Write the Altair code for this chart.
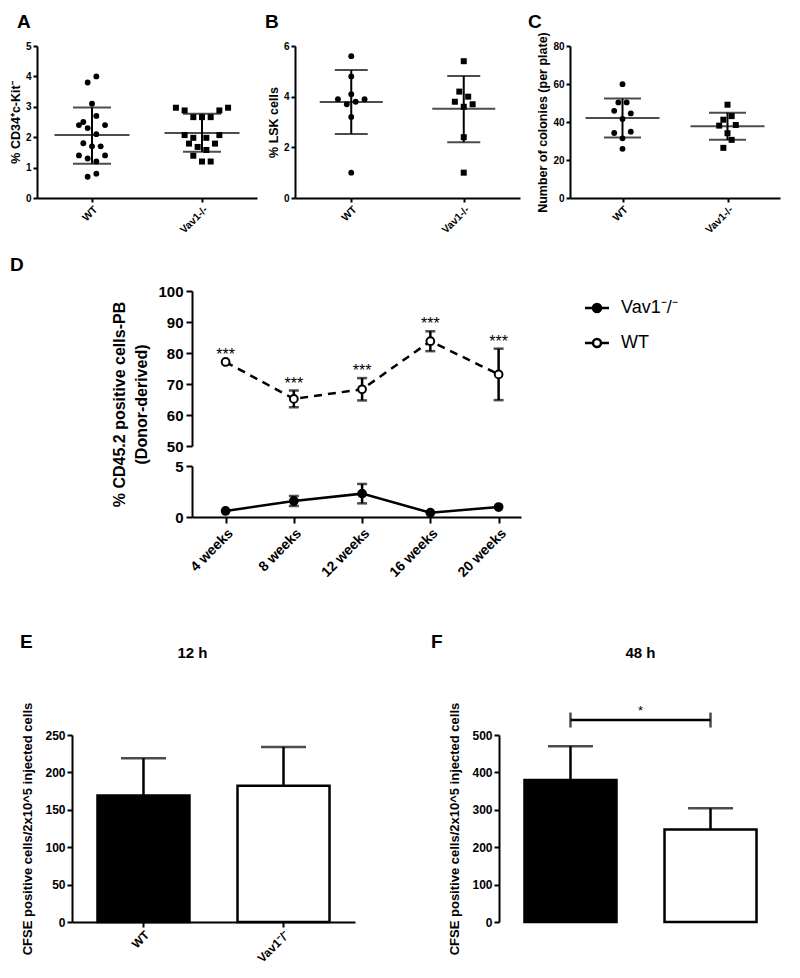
import altair as alt
import pandas as pd

FONT = "Liberation Sans"
INK = "#000000"

# ---------------- Panels A-C (scatter dot plots, mean +/- SD) ----------------
groups = ["WT", "Vav1-/-"]
col_step = 0.0395  # horizontal spread of one dot column, in group widths

a_ytitle = "% CD34\u207ac-Kit\u207b"
a_wt = [4.0, 3.8, 3.1, 2.7, 2.5, 2.4, 2.4, 2.3, 2.1, 1.8, 1.7, 1.7, 1.4, 1.4, 1.3, 1.2, 0.8, 0.7]
a_wt_col = [1, -1, 0, 1, -2, -3, 3, -1, 1, -2, 0, 2, -3, 3, -1, 1, 1, -1]
a_ko = [2.97, 2.88, 2.66, 2.66, 2.66, 2.88, 2.97, 2.07, 1.98, 1.98, 2.07, 1.79, 1.79, 1.68, 1.58, 1.39, 1.2, 1.2]
a_ko_col = [-6, -4, -2, 0, 2, 4, 6, -4, -2, 1, 4, -3, 3, -1, 1, -2, 0, 2]
a_mean = [2.07, 2.14]
a_hi = [2.98, 2.77]
a_lo = [1.13, 1.52]

b_ytitle = "% LSK cells"
b_wt = [5.6, 4.8, 4.1, 3.9, 3.9, 3.8, 3.7, 3.2, 1.0]
b_wt_col = [0, 0, 0, -3, 3, 1, -1, 0, 0]
b_ko = [5.4, 4.2, 4.0, 3.8, 3.7, 3.6, 2.4, 1.0]
b_ko_col = [0, -1, 1, -2, 2, 0, 0, 0]
b_mean = [3.79, 3.52]
b_hi = [5.05, 4.82]
b_lo = [2.53, 2.20]

c_ytitle = "Number of colonies (per plate)"
c_wt = [59.9, 50.3, 50.3, 45.9, 44.5, 41.6, 34.2, 34.9, 31.4, 25.9]
c_wt_col = [0, -1, 1, -2, 2, 0, -2, 2, 0, 0]
c_ko = [49.1, 43.1, 41.2, 38.1, 38.4, 34.1, 30.6, 26.4]
c_ko_col = [0, 1, -1, -2, 2, 0, 1, -1]
c_mean = [42.1, 37.7]
c_hi = [52.4, 44.9]
c_lo = [31.8, 30.6]

# ---------------- Panel D (time course) ----------------
week_labels = ["4 weeks", "8 weeks", "12 weeks", "16 weeks", "20 weeks"]
d_series = ["Vav1\u207b/\u207b", "WT"]
d_wt_mean = [77.1, 65.2, 68.3, 83.8, 73.1]
d_wt_err = [0.0, 2.7, 3.6, 3.2, 8.3]
d_ko_mean = [0.59, 1.57, 2.29, 0.42, 0.98]
d_ko_err = [0.0, 0.49, 0.95, 0.0, 0.0]
d_stars = ["***", "***", "***", "***", "***"]
d_ytitle = ["% CD45.2 positive cells-PB", "(Donor-derived)"]

# ---------------- Panels E-F (bar charts) ----------------
bar_groups = ["WT", "Vav1\u207b/\u207b"]
ef_ytitle = "CFSE positive cells/2x10^5 injected cells"
e_mean = [169, 182]
e_err = [50, 52]
f_mean = [380, 247]
f_err = [90, 57]
f_sig_y = 540
f_sig_label = "*"


def ax(**kw):
    base = dict(domainColor=INK, domainWidth=2, tickColor=INK, tickWidth=2, tickSize=4,
                labelColor=INK, labelFont=FONT, labelFontWeight="bold",
                titleColor=INK, titleFont=FONT, titleFontWeight="bold", grid=False)
    base.update(kw)
    return alt.Axis(**base)


def letter_title(text, dx, offset, frame="group"):
    return alt.TitleParams(text, anchor="start", frame=frame, dx=dx, offset=offset,
                           fontSize=19, font=FONT, fontWeight="bold", color=INK)


def spacer(w, title=None):
    props = dict(width=w, height=1)
    if title is not None:
        props["title"] = title
    return alt.Chart(pd.DataFrame({"s": [0]})).mark_point(opacity=0, size=0).properties(**props)


def scatter_panel(letter, letter_dx, letter_off, ytitle, ymax, ystep, wt, wt_col, ko, ko_col,
                  mean, hi, lo, width, mean_w, cap_w):
    pts = pd.DataFrame({"gi": [0] * len(wt) + [1] * len(ko),
                        "value": wt + ko, "col": wt_col + ko_col})
    pts["xpos"] = pts["gi"] + pts["col"] * col_step
    summ = pd.DataFrame({"xpos": [0, 1], "mean": mean, "hi": hi, "lo": lo})
    label_expr = "['" + "','".join(groups) + "'][datum.value]"
    x_axis = ax(title=None, values=[0, 1], labelExpr=label_expr, labelAngle=-45,
                labelFontSize=10.5, labelPadding=2)
    xsc = alt.Scale(domain=[-0.5, 1.5], nice=False, zero=False)

    def X():
        return alt.X("xpos:Q", scale=xsc, axis=x_axis)

    ysc = alt.Scale(domain=[0, ymax], nice=False)
    yax = ax(title=ytitle, values=list(range(0, ymax + 1, ystep)), labelFontSize=10,
             titleFontSize=12.5, titlePadding=3, labelPadding=2)

    def Y(f):
        return alt.Y(f, type="quantitative", scale=ysc, axis=yax)

    base = alt.Chart(pts).encode(x=X(), y=Y("value"))
    wt_l = base.transform_filter(alt.datum.gi == 0).mark_point(
        shape="circle", filled=True, size=34, color=INK, opacity=1)
    ko_l = base.transform_filter(alt.datum.gi == 1).mark_point(
        shape="square", filled=True, size=36, color=INK, opacity=1)
    sb = alt.Chart(summ).encode(x=X())
    vline = sb.mark_rule(color=INK, strokeWidth=2).encode(y=Y("lo"), y2="hi:Q")
    mline = sb.mark_tick(color=INK, thickness=2, size=mean_w, orient="horizontal").encode(y=Y("mean"))
    hcap = sb.mark_tick(color=INK, thickness=2, size=cap_w, orient="horizontal").encode(y=Y("hi"))
    lcap = sb.mark_tick(color=INK, thickness=2, size=cap_w, orient="horizontal").encode(y=Y("lo"))
    return alt.layer(wt_l, ko_l, vline, mline, hcap, lcap).properties(
        width=width, height=152, title=letter_title(letter, letter_dx, letter_off))


panel_a = scatter_panel("A", -20, 9, a_ytitle, 5, 1, a_wt, a_wt_col, a_ko, a_ko_col,
                        a_mean, a_hi, a_lo, 220, 75, 38)
panel_b = scatter_panel("B", -30, 9, b_ytitle, 6, 2, b_wt, b_wt_col, b_ko, b_ko_col,
                        b_mean, b_hi, b_lo, 225, 63, 33)
panel_c = scatter_panel("C", -42, 0, c_ytitle, 80, 20, c_wt, c_wt_col, c_ko, c_ko_col,
                        c_mean, c_hi, c_lo, 210, 74, 37)
row1 = alt.hconcat(spacer(1), alt.hconcat(panel_a, panel_b, panel_c, spacing=8), spacing=0)

# ---------------- Panel D ----------------
leg_path = ("M-2,0H-0.67M0.67,0H2M-0.67,0A0.67,0.67,0,1,0,0.67,0"
            "A0.67,0.67,0,1,0,-0.67,0Z")
fill_enc = alt.Fill("series:N", scale=alt.Scale(domain=d_series, range=[INK, "white"]),
                    legend=alt.Legend(title=None, orient="none", legendX=580, legendY=253,
                                      symbolType=leg_path, symbolSize=144, symbolStrokeWidth=2.5,
                                      symbolStrokeColor=INK, labelFont=FONT, labelFontSize=18,
                                      labelColor=INK, labelOffset=15, rowPadding=15, padding=0))

dx_scale = alt.Scale(type="point", domain=week_labels, padding=0.41, align=0.6)

df_wt = pd.DataFrame({"week": week_labels, "mean": d_wt_mean, "err": d_wt_err,
                      "series": d_series[1], "star": d_stars})
df_ko = pd.DataFrame({"week": week_labels, "mean": d_ko_mean, "err": d_ko_err,
                      "series": d_series[0]})


def d_layers(df, ydom, yvals, yaxis_kw, xaxis, dash, stars):
    ysc = alt.Scale(domain=ydom, nice=False, zero=False)
    yax = ax(values=yvals, labelFontSize=15, tickSize=6, labelPadding=3, **yaxis_kw)

    def Y(f):
        return alt.Y(f, type="quantitative", scale=ysc, axis=yax)

    x = alt.X("week:O", sort=week_labels, scale=dx_scale, axis=xaxis)
    base = alt.Chart(df).transform_calculate(
        hi="datum.mean + datum.err", lo="datum.mean - datum.err").encode(x=x)
    line_kw = dict(color=INK, strokeWidth=2.5)
    if dash:
        line_kw["strokeDash"] = [8, 6]
    line = base.mark_line(**line_kw).encode(y=Y("mean"))
    eb = base.transform_filter("datum.err > 0")
    rule = eb.mark_rule(color=INK, strokeWidth=2.5).encode(y=Y("lo"), y2="hi:Q")
    cap1 = eb.mark_tick(color=INK, thickness=2.5, size=10, orient="horizontal").encode(y=Y("hi"))
    cap2 = eb.mark_tick(color=INK, thickness=2.5, size=10, orient="horizontal").encode(y=Y("lo"))
    pts = base.mark_point(shape="circle", size=60, strokeWidth=2, stroke=INK, opacity=1,
                          fillOpacity=1).encode(y=Y("mean"), fill=fill_enc)
    layers = [line, rule, cap1, cap2, pts]
    if stars:
        layers.append(base.mark_text(baseline="bottom", fontSize=16, font=FONT, color=INK,
                                     dy=1).encode(y=Y("hi"), text="star:N"))
    return alt.layer(*layers)


d_upper = d_layers(df_wt, [50, 100], [50, 60, 70, 80, 90, 100],
                   dict(title=d_ytitle, titleFontSize=16, titleLineHeight=22, titlePadding=8,
                        titleY=113),
                   None, True, True).properties(width=329, height=155)
d_lower = d_layers(df_ko, [0, 5], [0, 5], dict(title=None),
                   ax(title=None, labelAngle=-45, labelFontSize=14, tickSize=6, labelPadding=3),
                   False, False).properties(width=329, height=51)
panel_d = alt.vconcat(d_upper, d_lower, spacing=20, bounds="flush")
row2 = alt.hconcat(spacer(103, letter_title("D", 2, 16)), panel_d, spacing=0)


# ---------------- Panels E-F ----------------
def bar_panel(letter, letter_dx, sub, sub_dx, means, errs, ymax, ystep, sig=False):
    df = pd.DataFrame({"group": bar_groups, "mean": means, "err": errs})
    xsc = alt.Scale(type="band", domain=bar_groups, paddingInner=0.343, paddingOuter=0.182)
    x = alt.X("group:N", sort=bar_groups, scale=xsc,
              axis=ax(title=None, labelAngle=-45, labelFontSize=12, tickSize=5, labelPadding=2))
    ysc = alt.Scale(domain=[0, ymax], nice=False)
    yax = ax(title=ef_ytitle, values=list(range(0, ymax + 1, ystep)), labelFontSize=12,
             tickSize=5, labelPadding=2, titleFontSize=13, titlePadding=10)

    def Y(f):
        return alt.Y(f, type="quantitative", scale=ysc, axis=yax)

    base = alt.Chart(df).transform_calculate(hi="datum.mean + datum.err").encode(x=x)
    bars = base.mark_bar(stroke=INK, strokeWidth=2.5, width=alt.RelativeBandSize(1)).encode(
        y=Y("mean"),
        fill=alt.condition(alt.datum.group == bar_groups[0], alt.value(INK), alt.value("white")))
    err = base.mark_rule(color=INK, strokeWidth=2.5).encode(y=Y("mean"), y2="hi:Q")
    cap = base.mark_tick(color=INK, thickness=2.5, size=45, orient="horizontal").encode(y=Y("hi"))
    layers = [bars, err, cap]
    if sig:
        sdf = pd.DataFrame({"a": [bar_groups[0]], "b": [bar_groups[1]], "y": [f_sig_y],
                            "label": [f_sig_label]})
        ends = pd.DataFrame({"group": bar_groups, "y": [f_sig_y, f_sig_y]})
        layers.append(alt.Chart(sdf).mark_rule(color=INK, strokeWidth=2.5).encode(
            x=alt.X("a:N", sort=bar_groups, scale=xsc, axis=None),
            x2="b:N", y=Y("y")))
        layers.append(alt.Chart(ends).mark_tick(color=INK, thickness=2.5, size=15,
                                                orient="vertical").encode(x=x, y=Y("y")))
        layers.append(alt.Chart(sdf).mark_text(baseline="bottom", fontSize=13, font=FONT,
                                               color=INK, dx=70, dy=-2).encode(
            x=alt.X("a:N", sort=bar_groups, scale=xsc, axis=None), y=Y("y"), text="label:N"))
    inner = alt.layer(*layers).properties(
        width=283, height=187,
        title=alt.TitleParams(sub, anchor="middle", frame="group", dx=sub_dx, offset=41,
                              fontSize=15, font=FONT, fontWeight="bold", color=INK))
    return alt.vconcat(inner, title=letter_title(letter, letter_dx, -6, frame="bounds"))


panel_e = bar_panel("E", -2, "12 h", -21, e_mean, e_err, 250, 50)
panel_f = bar_panel("F", -18, "48 h", 0, f_mean, f_err, 500, 100, sig=True)
row3 = alt.hconcat(spacer(11), alt.hconcat(panel_e, panel_f, spacing=75), spacing=0)

chart = alt.vconcat(alt.vconcat(row1, row2, spacing=20), row3, spacing=53).properties(
    padding={"top": 4, "left": 0, "right": 0, "bottom": 0}
).configure(font=FONT, background="white", view=alt.ViewConfig(stroke=None))

chart.save("out.html", embed_options={"renderer": "svg", "actions": False})
